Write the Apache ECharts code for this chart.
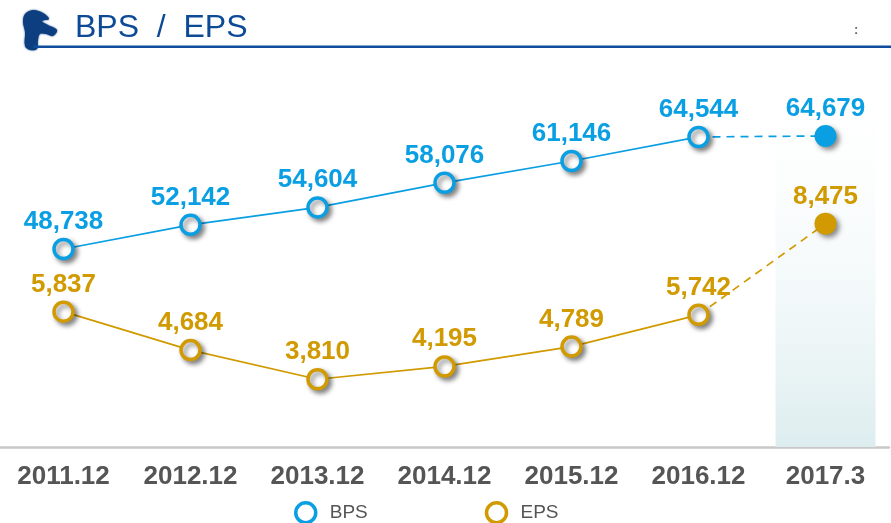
<!DOCTYPE html>
<html>
<head>
<meta charset="utf-8">
<script src="https://cdn.jsdelivr.net/npm/echarts@6/dist/echarts.min.js"></script>
<style>
  html, body { margin: 0; padding: 0; background: #fff; }
  #chart { width: 891px; height: 523px; }
</style>
</head>
<body>
<div id="chart"></div>
<script>
// Period labels along the x axis
const periods = ['2011.12', '2012.12', '2013.12', '2014.12', '2015.12', '2016.12', '2017.3'];
// Book value per share (annual results, then latest quarter)
const bpsValues = [48738, 52142, 54604, 58076, 61146, 64544, 64679];
// Earnings per share (annual results, then latest quarter)
const epsValues = [5837, 4684, 3810, 4195, 4789, 5742, 8475];

const BLUE = '#0A9FE3';
const GOLD = '#D09A00';
const FONT = '"Liberation Sans", Arial, sans-serif';
const BPS_MIN = 20800, BPS_MAX = 75400;
const EPS_MIN = 1780, EPS_MAX = 13380;

const last = periods.length - 1;

// Solid part: settled annual figures; dashed part: link to the latest quarter
function solidPart(values) {
  return values.map((v, i) => (i < last ? v : '-'));
}
function dashedPart(values, color) {
  return values.map((v, i) => {
    if (i === last) {
      return { value: v, symbol: 'circle', symbolSize: 22,
               itemStyle: { color: color, borderWidth: 0 },
               label: { show: true } };
    }
    if (i === last - 1) return { value: v, symbol: 'none' };
    return '-';
  });
}

const markerShadow = {
  shadowColor: 'rgba(0,0,0,0.45)', shadowBlur: 5, shadowOffsetX: 3, shadowOffsetY: 3
};

function valueLabel(color) {
  return {
    show: true, position: 'top', distance: 3,
    color: color, fontSize: 26, fontWeight: 'bold', fontFamily: FONT,
    formatter: p => Number(p.value).toLocaleString('en-US')
  };
}

const chart = echarts.init(document.getElementById('chart'));

chart.setOption({
  animation: false,
  backgroundColor: '#fff',
  grid: { left: -2, right: 2, top: 60, bottom: 76 },
  graphic: [
    {
      // Brand mark beside the heading
      type: 'polygon', z: 10,
      shape: {
        smooth: 0.35,
        points: [[25, 14], [33, 10], [43, 13], [49, 19], [42, 21], [48, 25],
                 [57, 30], [53, 36], [46, 34], [40, 34], [38, 40], [37, 49],
                 [30, 50], [25, 46], [25, 32], [23, 22]]
      },
      style: { fill: '#0D3F80', shadowColor: '#0D3F80', shadowBlur: 2 }
    },
    {
      type: 'text', left: 75, top: 12, z: 10,
      style: { text: 'BPS  /  EPS', fill: '#0D4A96', font: '32px ' + FONT }
    },
    {
      type: 'rect', left: 33, top: 45.5, z: 10,
      shape: { width: 860, height: 2.5 },
      style: { fill: '#0F4C9B' }
    },
    {
      type: 'text', left: 854, top: 24, z: 10,
      style: { text: ':', fill: '#666', font: 'bold 13px ' + FONT }
    }
  ],
  legend: {
    left: 289, top: 496,
    itemWidth: 20, itemHeight: 20, itemGap: 117,
    icon: 'circle',
    textStyle: { color: '#555', fontSize: 19, fontFamily: FONT, padding: [0, 0, 0, 9] },
    data: [
      { name: 'BPS', itemStyle: { color: '#fff', borderColor: BLUE, borderWidth: 3.5, shadowBlur: 0, shadowOffsetX: 0, shadowOffsetY: 0 } },
      { name: 'EPS', itemStyle: { color: '#fff', borderColor: GOLD, borderWidth: 3.5, shadowBlur: 0, shadowOffsetX: 0, shadowOffsetY: 0 } }
    ]
  },
  xAxis: {
    type: 'category', data: periods, boundaryGap: true,
    axisLine: { show: true, lineStyle: { color: '#C8C8C8', width: 2.5 } },
    axisTick: { show: false },
    axisLabel: { color: '#555', fontSize: 26, fontWeight: 'bold', fontFamily: FONT, margin: 17 },
    splitLine: { show: false }
  },
  yAxis: [
    { type: 'value', min: BPS_MIN, max: BPS_MAX, show: false, splitLine: { show: false } },
    { type: 'value', min: EPS_MIN, max: EPS_MAX, show: false, splitLine: { show: false } }
  ],
  series: [
    {
      // Highlight column behind the latest quarter
      name: 'highlight', type: 'bar', yAxisIndex: 0, barWidth: 100, z: 0,
      silent: true, legendHoverLink: false,
      data: periods.map((p, i) => (i === last ? BPS_MAX : '-')),
      itemStyle: {
        color: {
          type: 'linear', x: 0, y: 0, x2: 0, y2: 1,
          colorStops: [
            { offset: 0, color: 'rgba(255,255,255,0)' },
            { offset: 1, color: '#DDEDEF' }
          ]
        }
      }
    },
    {
      name: 'BPS', type: 'line', yAxisIndex: 0, z: 5,
      data: solidPart(bpsValues),
      symbol: 'circle', symbolSize: 19, showAllSymbol: true,
      lineStyle: { color: BLUE, width: 1.7 },
      itemStyle: Object.assign({ color: '#fff', borderColor: BLUE, borderWidth: 3.5 }, markerShadow),
      label: valueLabel(BLUE)
    },
    {
      name: 'BPS', type: 'line', yAxisIndex: 0, z: 4,
      data: dashedPart(bpsValues, BLUE),
      symbol: 'none',
      lineStyle: { color: BLUE, width: 1.7, type: [8, 6] },
      itemStyle: Object.assign({ color: BLUE }, markerShadow),
      label: Object.assign(valueLabel(BLUE), { show: false })
    },
    {
      name: 'EPS', type: 'line', yAxisIndex: 1, z: 5,
      data: solidPart(epsValues),
      symbol: 'circle', symbolSize: 19, showAllSymbol: true,
      lineStyle: { color: GOLD, width: 1.7 },
      itemStyle: Object.assign({ color: '#fff', borderColor: GOLD, borderWidth: 3.5 }, markerShadow),
      label: valueLabel(GOLD)
    },
    {
      name: 'EPS', type: 'line', yAxisIndex: 1, z: 4,
      data: dashedPart(epsValues, GOLD),
      symbol: 'none',
      lineStyle: { color: GOLD, width: 1.7, type: [8, 6] },
      itemStyle: Object.assign({ color: GOLD }, markerShadow),
      label: Object.assign(valueLabel(GOLD), { show: false })
    }
  ]
});
</script>
</body>
</html>
